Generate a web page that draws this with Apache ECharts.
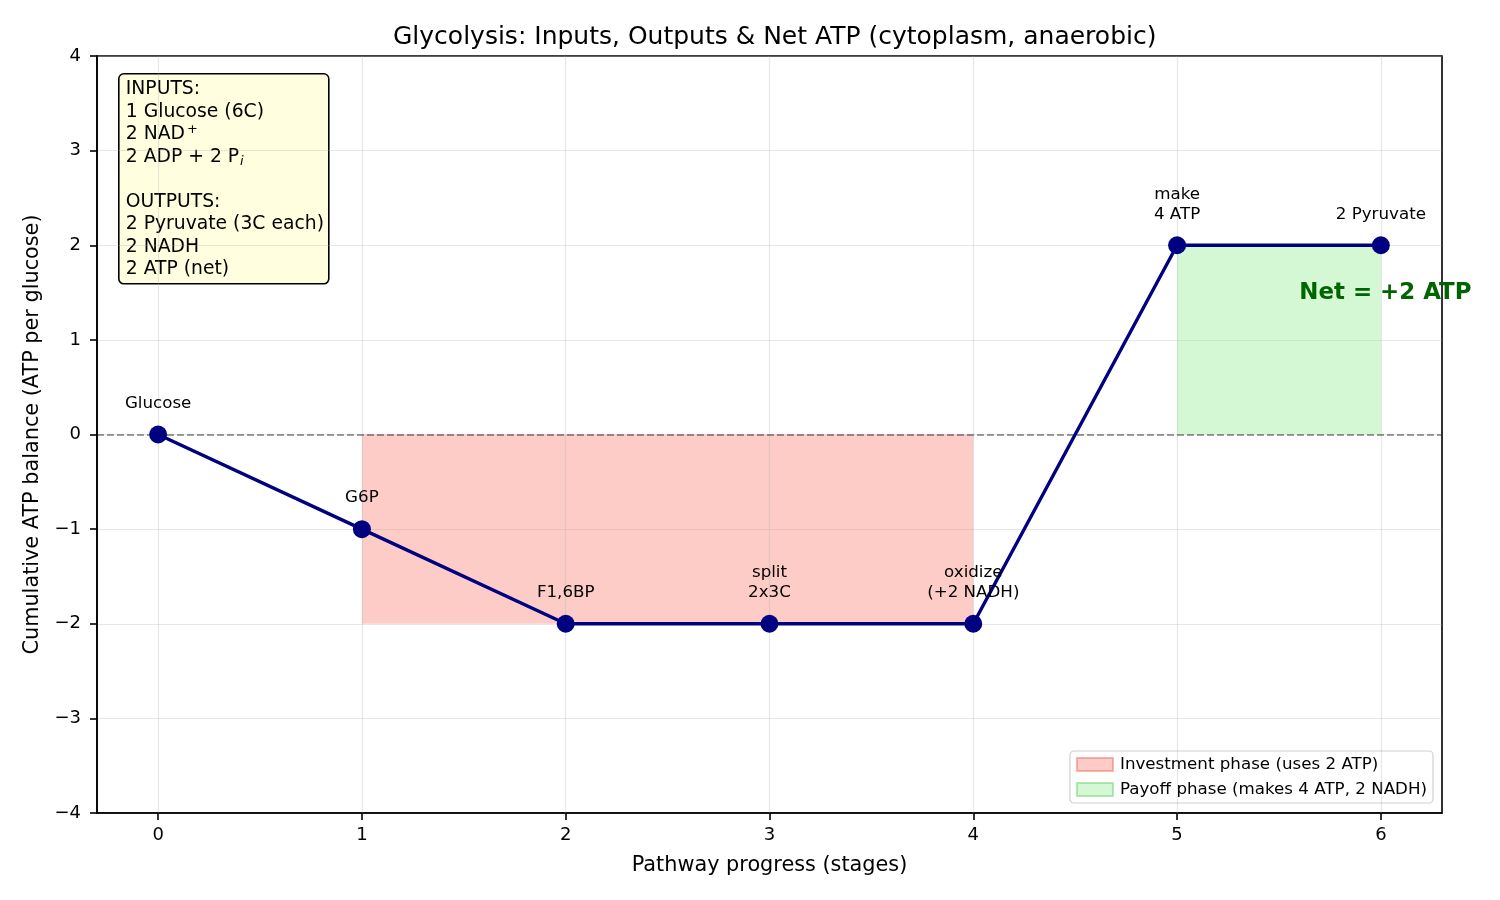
<!DOCTYPE html>
<html><head><meta charset="utf-8">
<script src="https://cdn.jsdelivr.net/npm/echarts@6/dist/echarts.min.js"></script>
<style>html,body{margin:0;padding:0;background:#fff}#c{width:1500px;height:900px}</style>
</head><body><div id="c"></div>
<script>
const stages = [0, 1, 2, 3, 4, 5, 6];
const atpBalance = [0, -1, -2, -2, -2, 2, 2];
const stageLabels = ['Glucose', 'G6P', 'F1,6BP', 'split\n2x3C', 'oxidize\n(+2 NADH)', 'make\n4 ATP', '2 Pyruvate'];
const xTicks = [0, 1, 2, 3, 4, 5, 6];
const yTicks = [-4, -3, -2, -1, 0, 1, 2, 3, 4];
const investment = {x0: 1, x1: 4, y0: -2, y1: 0, name: 'Investment phase (uses 2 ATP)'};
const payoff = {x0: 5, x1: 6, y0: 0, y1: 2, name: 'Payoff phase (makes 4 ATP, 2 NADH)'};
const netNote = {x: 5.6, y: 1.5, text: 'Net = +2 ATP'};

const FONT = 'DejaVu Sans';
const minus = v => (v < 0 ? '\u2212' + (-v) : String(v));
const chart = echarts.init(document.getElementById('c'));

chart.setOption({
  animation: false,
  textStyle: {fontFamily: FONT},
  title: {text: 'Glycolysis: Inputs, Outputs & Net ATP (cytoplasm, anaerobic)', left: 388, top: 20,
    textStyle: {fontFamily: FONT, fontSize: 25, fontWeight: 'normal', color: '#000'}},
  grid: {left: 97, right: 58, top: 56, bottom: 87, show: true, borderColor: '#000', borderWidth: 1.6, backgroundColor: 'transparent'},
  legend: {
    right: 67, bottom: 97, orient: 'vertical', itemWidth: 36, itemHeight: 13, itemGap: 8,
    backgroundColor: '#fff', borderColor: '#d0d0d0', borderWidth: 1.2, borderRadius: 4, padding: [5, 6, 5, 6],
    textStyle: {fontFamily: FONT, fontSize: 16.7, color: '#000', padding: [0, 0, 0, 2]},
    data: [{name: investment.name, icon: 'rect'}, {name: payoff.name, icon: 'rect'}]
  },
  xAxis: {
    type: 'value', min: -0.3, max: 6.3,
    name: 'Pathway progress (stages)', nameLocation: 'middle', nameGap: 42,
    nameTextStyle: {fontFamily: FONT, fontSize: 20.8, color: '#000'},
    axisLine: {show: true, onZero: false, lineStyle: {color: '#000', width: 1.6}},
    axisTick: {show: true, customValues: xTicks, length: 7, lineStyle: {color: '#000', width: 1.6}},
    axisLabel: {customValues: xTicks, fontFamily: FONT, fontSize: 18, color: '#000', margin: 13, formatter: minus},
    splitLine: {show: false}
  },
  yAxis: {
    type: 'value', min: -4, max: 4, interval: 1,
    name: 'Cumulative ATP balance (ATP per glucose)', nameLocation: 'middle', nameGap: 52,
    nameTextStyle: {fontFamily: FONT, fontSize: 20.8, color: '#000'},
    axisLine: {show: true, onZero: false, lineStyle: {color: '#000', width: 1.6}},
    axisTick: {show: true, length: 7, lineStyle: {color: '#000', width: 1.6}},
    axisLabel: {fontFamily: FONT, fontSize: 18, color: '#000', margin: 16, formatter: minus},
    splitLine: {show: true, lineStyle: {color: 'rgba(176,176,176,0.3)', width: 1.2}}
  },
  series: [
    {
      name: 'vgrid', type: 'line', data: [], silent: true,
      markLine: {silent: true, symbol: 'none', label: {show: false},
        lineStyle: {color: 'rgba(176,176,176,0.3)', type: 'solid', width: 1.2},
        data: xTicks.map(v => ({xAxis: v}))}
    },
    {
      name: investment.name, type: 'line', data: [], silent: true,
      itemStyle: {color: 'rgba(250,128,114,0.4)', borderColor: 'rgba(240,110,100,0.5)', borderWidth: 1},
      lineStyle: {opacity: 0},
      markArea: {silent: true, itemStyle: {color: 'rgba(250,128,114,0.4)'},
        data: [[{coord: [investment.x0, investment.y1]}, {coord: [investment.x1, investment.y0]}]]}
    },
    {
      name: payoff.name, type: 'line', data: [], silent: true,
      itemStyle: {color: 'rgba(144,238,144,0.4)', borderColor: 'rgba(110,210,110,0.5)', borderWidth: 1},
      lineStyle: {opacity: 0},
      markArea: {silent: true, itemStyle: {color: 'rgba(144,238,144,0.4)'},
        data: [[{coord: [payoff.x0, payoff.y0]}, {coord: [payoff.x1, payoff.y1]}]]}
    },
    {
      name: 'zero', type: 'line', data: [], silent: true,
      markLine: {silent: true, symbol: 'none', label: {show: false},
        lineStyle: {color: 'rgba(0,0,0,0.5)', type: [7, 3], width: 1.6},
        data: [{yAxis: 0}]}
    },
    {
      name: 'ATP', type: 'line', z: 5,
      data: stages.map((s, i) => [s, atpBalance[i]]),
      lineStyle: {color: '#000080', width: 3.4},
      itemStyle: {color: '#000080'},
      symbol: 'circle', symbolSize: 18, showAllSymbol: true,
      label: {show: true, position: 'top', distance: 12, fontFamily: FONT, fontSize: 16.7, color: '#000',
        lineHeight: 20, align: 'center',
        formatter: p => stageLabels[p.dataIndex]}
    },
    {
      name: 'net', type: 'scatter', z: 20, symbolSize: 0, silent: true,
      itemStyle: {opacity: 1},
      data: [[netNote.x, netNote.y]],
      label: {show: true, position: 'right', distance: 0, opacity: 1,
        fontFamily: FONT, fontSize: 22.9, fontWeight: 'bold', color: '#006400',
        formatter: () => netNote.text}
    }
  ],
  graphic: [{
    type: 'group', left: 118, top: 73, z: 100,
    children: [
      {type: 'rect', shape: {x: 0, y: 0, width: 210, height: 210, r: 5},
        style: {fill: '#ffffe0', stroke: '#000', lineWidth: 1.6}},
      {type: 'text', left: 7, top: 6,
        style: {
          text: [
            '{t|INPUTS:}', '{t|1 Glucose (6C)}', '{t|2 NAD}{sup|+}', '{t|2 ADP + 2 P}{sub|i}', '{t| }',
            '{t|OUTPUTS:}', '{t|2 Pyruvate (3C each)}', '{t|2 NADH}', '{t|2 ATP (net)}'
          ].join('\n'),
          fill: '#000', font: '18.75px DejaVu Sans',
          rich: {
            t: {fontFamily: FONT, fontSize: 18.75, lineHeight: 22.5, fill: '#000'},
            sup: {fontFamily: FONT, fontSize: 13, lineHeight: 22.5, verticalAlign: 'top', padding: [0, 0, 0, 2]},
            sub: {fontFamily: FONT, fontSize: 13, lineHeight: 22.5, fontStyle: 'italic', verticalAlign: 'bottom', padding: [7, 0, 0, 1]}
          }
        }}
    ]
  }]
});
</script></body></html>
